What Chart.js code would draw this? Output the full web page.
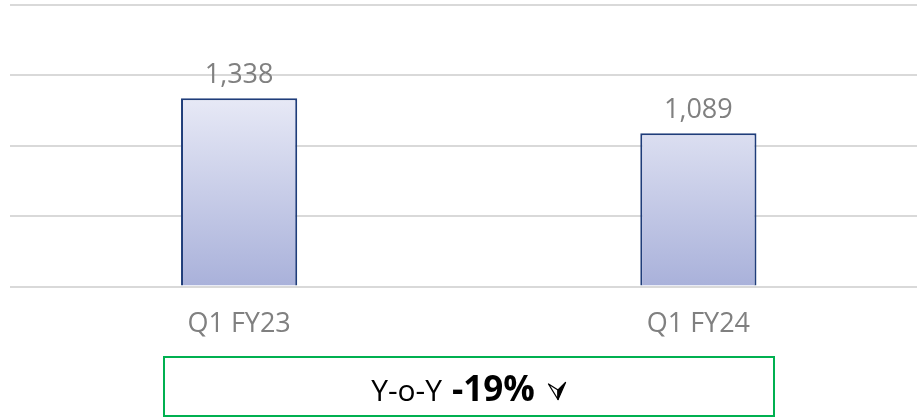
<!DOCTYPE html>
<html>
<head>
<meta charset="utf-8">
<script src="https://cdn.jsdelivr.net/npm/chart.js@4.4.0/dist/chart.umd.min.js"></script>
<style>
  html, body { margin: 0; padding: 0; background: #fff; overflow: hidden; }
  .chart-container { position: absolute; left: 0; top: 0; width: 928px; height: 370px; }
  .yoy {
    position: absolute; left: 163px; top: 356px; width: 608px; height: 57px;
    border: 2px solid #00b050; display: flex; align-items: center; justify-content: center;
    font-family: "Open Sans", sans-serif; font-size: 30px; color: #000;
  }
  .yoy span, .yoy b { position: relative; top: 3px; }
  .yoy b { font-size: 35px; margin-left: 10px; top: 1px; }
  .yoy svg { margin-left: 12px; position: relative; top: 4px; }
</style>
</head>
<body>
<div class="chart-container">
  <canvas id="barChart"></canvas>
</div>
<div class="yoy"><span>Y-o-Y</span><b>-19%</b>
  <svg width="20" height="20" viewBox="0 0 20 20">
    <polygon points="1.5,3 11,9 11,18.5" fill="none" stroke="#000" stroke-width="1.3" stroke-linejoin="round"/>
    <polygon points="11,9 18.5,1.5 11,18.5" fill="#000" stroke="#000" stroke-width="1.3" stroke-linejoin="round"/>
  </svg>
</div>
<script>
const categories = ['Q1 FY23', 'Q1 FY24'];
const values = [1338, 1089];
const yTicks = [0, 500, 1000, 1500, 2000];

// etiquetas de valor encima de cada barra
const valueLabels = {
  id: 'valueLabels',
  afterDatasetsDraw(chart) {
    const { ctx } = chart;
    const meta = chart.getDatasetMeta(0);
    ctx.save();
    ctx.font = '27px "Open Sans", sans-serif';
    ctx.fillStyle = '#808080';
    ctx.textAlign = 'center';
    ctx.textBaseline = 'bottom';
    meta.data.forEach((bar, i) => {
      ctx.fillText(values[i].toLocaleString('en-US'), bar.x, bar.y - 9);
    });
    ctx.restore();
  }
};

const ctx = document.getElementById('barChart');
new Chart(ctx, {
  type: 'bar',
  data: {
    labels: categories,
    datasets: [{
      data: values,
      backgroundColor: (c) => {
        const area = c.chart.chartArea;
        if (!area) return '#c8cdea';
        const y0 = c.chart.scales.y.getPixelForValue(0);
        const g = c.chart.ctx.createLinearGradient(0, c.chart.scales.y.getPixelForValue(values[0]), 0, y0);
        g.addColorStop(0, '#e7e9f6');
        g.addColorStop(1, '#a9b1da');
        return g;
      },
      borderColor: '#1f3d7a',
      borderWidth: 2,
      barPercentage: 0.253,
      categoryPercentage: 1,
    }],
  },
  options: {
    responsive: true,
    maintainAspectRatio: false,
    animation: false,
    layout: { padding: { left: 9.5, right: 0, top: 5, bottom: 15 } },
    plugins: { legend: { display: false }, tooltip: { enabled: false } },
    scales: {
      x: {
        grid: { display: false },
        border: { display: false },
        ticks: {
          color: '#808080',
          font: { family: '"Open Sans", sans-serif', size: 27 },
          padding: 14,
        },
      },
      y: {
        min: yTicks[0],
        max: yTicks[yTicks.length - 1],
        afterBuildTicks: (axis) => { axis.ticks = yTicks.map(v => ({ value: v })); },
        grid: { color: '#d9d9d9', lineWidth: 2, drawTicks: false },
        border: { display: false },
        ticks: { display: false },
      },
    },
  },
  plugins: [valueLabels],
});
</script>
</body>
</html>
